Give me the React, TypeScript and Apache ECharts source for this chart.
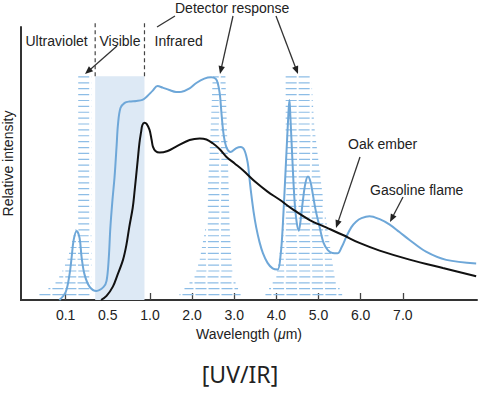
import React, { useEffect, useRef } from "react";
import * as echarts from "echarts";

// ---- data (x in tick-index units of the schematic wavelength axis, y = relative intensity 0..100) ----
const tickLabels = ["0.1", "0.5", "1.0", "2.0", "3.0", "4.0", "5.0", "6.0", "7.0"];
const tickPositions = [0, 1, 2, 3, 4, 5, 6, 7, 8];

const gasolineFlame: [number, number][] = [
  [-0.15, 0], [0.0, 2.9], [0.09, 9.2], [0.14, 15.4], [0.19, 22.0], [0.26, 25.3], [0.33, 22.7],
  [0.38, 15.4], [0.45, 9.2], [0.57, 4.8], [0.73, 3.3], [0.9, 4.8], [0.97, 7.0], [1.02, 14.7],
  [1.06, 26.4], [1.11, 36.6], [1.16, 45.1], [1.21, 56.8], [1.24, 64.1], [1.3, 70.3], [1.4, 72.2],
  [1.51, 72.7], [1.68, 72.9], [1.82, 73.3], [1.94, 74.7], [2.06, 76.6], [2.18, 78.4], [2.3, 77.8],
  [2.46, 76.9], [2.62, 76.2], [2.75, 76.3], [2.94, 77.5], [3.1, 79.5], [3.29, 81.1], [3.45, 81.6],
  [3.56, 81.0], [3.61, 79.4], [3.66, 75.1], [3.7, 67.8], [3.75, 60.4], [3.82, 55.7], [3.91, 54.2],
  [4.05, 55.6], [4.15, 56.0], [4.24, 54.9], [4.32, 50.2], [4.36, 44.7], [4.4, 39.2], [4.46, 32.2],
  [4.52, 26.7], [4.6, 21.2], [4.68, 17.2], [4.79, 13.6], [4.91, 11.6], [5.03, 11.2], [5.1, 16.5],
  [5.15, 26.8], [5.23, 51.3], [5.29, 69.6], [5.31, 73.3], [5.33, 67.8], [5.38, 51.3], [5.43, 36.6],
  [5.48, 28.6], [5.53, 25.4], [5.57, 28.6], [5.63, 36.6], [5.69, 42.9], [5.75, 45.2], [5.81, 43.2],
  [5.86, 39.1], [5.93, 33.0], [6.02, 27.1], [6.12, 20.9], [6.22, 18.3], [6.33, 17.2], [6.45, 17.1],
  [6.55, 19.4], [6.66, 23.2], [6.78, 26.7], [6.89, 28.7], [7.02, 30.0], [7.21, 30.7], [7.45, 29.6],
  [7.68, 27.7], [7.92, 24.9], [8.16, 22.0], [8.55, 17.7], [9.03, 14.7], [9.74, 13.4],
];

const oakEmber: [number, number][] = [
  [0.84, 0], [0.97, 1.5], [1.12, 4.9], [1.23, 9.2], [1.36, 14.7], [1.44, 20.1], [1.51, 26.8],
  [1.59, 33.7], [1.63, 39.1], [1.71, 51.3], [1.75, 57.5], [1.79, 61.6], [1.82, 64.1], [1.87, 64.9],
  [1.92, 64.5], [1.99, 62.3], [2.04, 58.6], [2.07, 56.2], [2.13, 54.6], [2.23, 54.0], [2.42, 54.6],
  [2.62, 56.2], [2.94, 58.6], [3.18, 59.2], [3.34, 58.8], [3.49, 57.4], [3.65, 55.3], [3.81, 52.5],
  [4.01, 50.0], [4.2, 47.6], [4.52, 43.0], [4.79, 39.7], [5.07, 36.8], [5.39, 33.2], [5.79, 29.3],
  [6.18, 26.6], [6.58, 23.8], [6.97, 20.9], [7.45, 18.1], [8.16, 14.8], [8.95, 11.7], [9.74, 8.7],
];

// detector response envelopes: [intensity, left, right], bottom to top
const detectorUV: [number, number, number][] = [
  [2.0, -0.67, 0.61], [4.4, -0.38, 0.61], [6.6, -0.22, 0.61], [9.9, -0.1, 0.61],
  [14.7, 0.04, 0.61], [22.0, 0.16, 0.61], [26.7, 0.25, 0.61], [81.7, 0.25, 0.61],
];
const detectorIR1: [number, number, number][] = [
  [2.0, 2.7, 4.15], [8.5, 3.06, 3.97], [14.7, 3.18, 3.93], [26.8, 3.32, 3.89],
  [51.3, 3.41, 3.85], [81.7, 3.49, 3.79],
];
const detectorIR2: [number, number, number][] = [
  [2.0, 4.74, 6.56], [8.5, 5.0, 6.38], [20.9, 5.11, 6.26], [39.2, 5.19, 6.09],
  [63.5, 5.22, 5.9], [81.7, 5.22, 5.83],
];
const detectors = [detectorUV, detectorIR1, detectorIR2];

const visibleBand = [0.7, 1.87];
const visibleTop = 82;
const dividerTop = 101.8;

const FONT = "Liberation Sans, Arial, sans-serif";
const INK = "#222";
const BLUE = "#6ea7d8";
const HATCH = "#8dbde6";

function arrow(x1: number, y1: number, x2: number, y2: number, head = true) {
  const dx = x2 - x1, dy = y2 - y1;
  const len = Math.hypot(dx, dy);
  const ux = dx / len, uy = dy / len;
  const hl = 8, hw = 3.2;
  const bx = x2 - ux * hl, by = y2 - uy * hl;
  const children: any[] = [
    {
      type: "line",
      shape: head ? { x1, y1, x2: bx + ux * 1, y2: by + uy * 1 } : { x1, y1, x2, y2 },
      style: { stroke: "#333", lineWidth: 1.3 },
    },
  ];
  if (head) {
    children.push({
      type: "polygon",
      shape: { points: [[x2, y2], [bx - uy * hw, by + ux * hw], [bx + uy * hw, by - ux * hw]] },
      style: { fill: "#222" },
    });
  }
  return { type: "group", children };
}

function label(text: string, x: number, y: number) {
  return {
    type: "text",
    x,
    y,
    style: { text, fill: INK, font: `14px ${FONT}`, textAlign: "left", textVerticalAlign: "middle" },
  };
}

export default function App() {
  const ref = useRef<HTMLDivElement>(null);
  useEffect(() => {
    if (!ref.current) return;
    const chart = echarts.init(ref.current, undefined, { renderer: "svg" });
    const option: any = {
      animation: false,
      grid: {
        left: 21, top: 27, width: 456, height: 273,
        containLabel: false, outerBoundsMode: "none",
      },
      title: {
        text: "[UV/IR]",
        left: 235,
        top: 357,
        textAlign: "center",
        textStyle: { fontFamily: "Noto Sans", fontSize: 23, fontWeight: "normal", color: INK },
      },
      xAxis: {
        type: "value",
        min: -1.06,
        max: 9.76,
        name: "Wavelength ({it|μ}m)",
        nameLocation: "middle",
        nameGap: 25,
        nameTextStyle: {
          fontSize: 14, color: INK, fontFamily: FONT,
          rich: { it: { fontStyle: "italic", fontSize: 14, color: INK, fontFamily: FONT } },
        },
        splitLine: { show: false },
        axisLine: { show: true, onZero: false, lineStyle: { color: "#333", width: 2 } },
        axisTick: {
          show: true, inside: true, length: 7, customValues: tickPositions,
          lineStyle: { color: "#444", width: 1.3 },
        },
        axisLabel: {
          customValues: tickPositions, margin: 8, fontSize: 14, color: INK, fontFamily: FONT,
          formatter: (v: number) => tickLabels[Math.round(v)] ?? "",
        },
      },
      yAxis: {
        type: "value",
        position: "left",
        offset: 0,
        min: 0,
        max: 100,
        name: "Relative intensity",
        nameLocation: "middle",
        nameRotate: 90,
        nameGap: 6,
        nameTextStyle: { fontSize: 14, color: INK, fontFamily: FONT },
        axisLine: { show: true, onZero: false, lineStyle: { color: "#333", width: 2 } },
        axisTick: { show: false },
        axisLabel: { show: false },
        splitLine: { show: false },
      },
      series: [
        {
          type: "line",
          name: "band",
          data: [],
          z: 0,
          silent: true,
          markArea: {
            silent: true,
            itemStyle: { color: "#dde9f5" },
            data: [[{ xAxis: visibleBand[0], yAxis: 0 }, { xAxis: visibleBand[1], yAxis: visibleTop }]],
          },
        },
        {
          type: "line",
          name: "divider1",
          data: [[visibleBand[0], visibleTop], [visibleBand[0], dividerTop]],
          symbol: "none",
          clip: false,
          silent: true,
          lineStyle: { color: "#444", width: 1.2, type: [4, 3] },
        },
        {
          type: "line",
          name: "divider2",
          data: [[visibleBand[1], visibleTop], [visibleBand[1], dividerTop]],
          symbol: "none",
          clip: false,
          silent: true,
          lineStyle: { color: "#444", width: 1.2, type: [4, 3] },
        },
        {
          type: "custom",
          name: "Detector response",
          data: [[0], [1], [2]],
          clip: false,
          silent: true,
          z: 2,
          renderItem: (params: any, api: any) => {
            const env = detectors[params.dataIndex];
            const pts = env.map(([y, l, r]) => {
              const a = api.coord([l, y]);
              const b = api.coord([r, y]);
              return { y: a[1], l: a[0], r: b[0] };
            });
            const bottom = pts[0].y;
            const top = pts[pts.length - 1].y;
            const n = Math.round((bottom - top) / 5.9);
            const step = (bottom - top) / n;
            const children: any[] = [];
            for (let k = 0; k <= n; k++) {
              const yy = bottom - k * step;
              let i = 0;
              while (i < pts.length - 2 && yy < pts[i + 1].y) i++;
              const p = pts[i], q = pts[i + 1];
              const t = Math.max(0, Math.min(1, (yy - p.y) / (q.y - p.y)));
              const l = p.l + (q.l - p.l) * t;
              const r = p.r + (q.r - p.r) * t;
              children.push({
                type: "line",
                shape: { x1: l, y1: yy, x2: r, y2: yy },
                style: {
                  stroke: HATCH, lineWidth: 1.2, lineDash: [11, 2],
                  lineDashOffset: ((l % 13) + 13) % 13,
                },
              });
            }
            return { type: "group", children };
          },
        },
        {
          type: "line",
          name: "Gasoline flame",
          data: gasolineFlame,
          smooth: 0.35,
          symbol: "none",
          z: 3,
          lineStyle: { color: BLUE, width: 2 },
        },
        {
          type: "line",
          name: "Oak ember",
          data: oakEmber,
          smooth: 0.35,
          symbol: "none",
          z: 4,
          lineStyle: { color: "#111", width: 2 },
        },
      ],
      graphic: [
        { type: "line", shape: { x1: 21, y1: 27, x2: 21, y2: 301 }, style: { stroke: "#333", lineWidth: 2 } },
        label("Ultraviolet", 25.5, 41),
        label("Visible", 99.5, 41),
        label("Infrared", 154.5, 41),
        label("Detector response", 175, 7.5),
        label("Oak ember", 348, 144),
        label("Gasoline flame", 370, 190),
        arrow(175, 16, 157, 27, false),
        arrow(117, 46, 85, 74),
        arrow(233, 16, 220, 74),
        arrow(276, 16, 298, 74),
        arrow(360, 157, 336, 228),
        arrow(403, 197, 390, 222),
      ],
    };
    chart.setOption(option);
    return () => chart.dispose();
  }, []);
  return (
    <div
      ref={ref}
      style={{ position: "fixed", left: 0, top: 0, width: 478, height: 398, background: "#fff" }}
    />
  );
}
